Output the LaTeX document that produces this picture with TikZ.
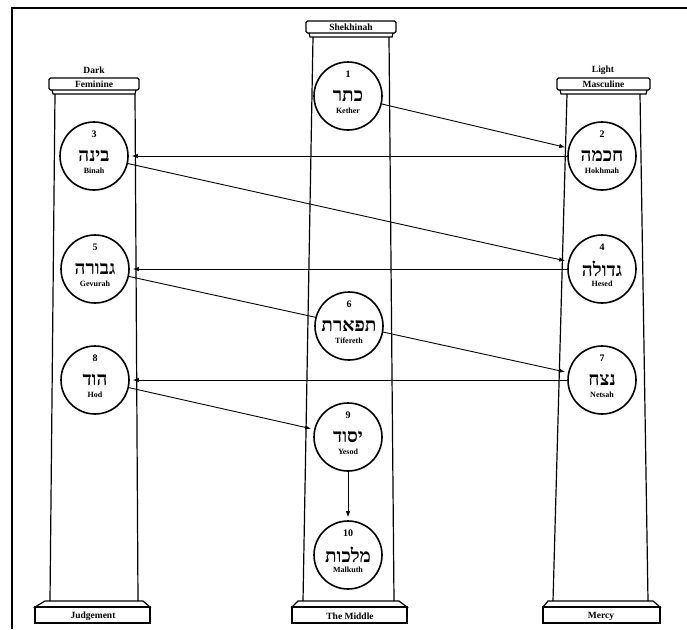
\documentclass[tikz,border=0pt]{standalone}
\usepackage{fontspec}
\usetikzlibrary{arrows.meta}
\TeXXeTstate=1
\newfontfamily\hebfont[Script=Hebrew]{Liberation Serif}
\setmainfont{Liberation Serif}
% #1 cap left, #2 cap right, #3 cap top, #4 shaft top-left, #5 shaft top-right, #6 shaft bottom-left, #7 shaft bottom-right, #8 base left, #9 base right
\newcommand\pillarat[9]{%
  \draw[pil, rounded corners=1.5pt] (#1,#3) rectangle (#2,#3+12);
  \draw[pil] (#1+3,#3+12) -- (#1+4,#3+16) -- (#2-4,#3+16) -- (#2-3,#3+12);
  \draw[pil] (#4,#3+16) -- (#6,601);
  \draw[pil] (#5,#3+16) -- (#7,601);
  \draw[pil] (#6-5,601) -- (#7+5,601) -- (#9,607) -- (#8,607) -- cycle;
  \draw[pil] (#8,607) rectangle (#9,623);
}
% #1 name, #2 x, #3 y, #4 number, #5 hebrew, #6 latin name
\newcommand\sefnode[6]{%
  \node[sef] (#1) at (#2,#3) {\raisebox{-1.5pt}{\beginR #5\endR}};
  \node[numlab] (#1n) at ([yshift=22pt]#1.center) {#4};
  \node[namelab] (#1l) at ([yshift=-15pt]#1.center) {#6};
}
\begin{document}
\begin{tikzpicture}[x=1pt,y=-1pt,
  sef/.style={circle, draw, line width=1.6pt, fill=white, minimum size=68pt, inner sep=0pt,
    font=\hebfont\bfseries\fontsize{19}{19}\selectfont},
  numlab/.style={font=\bfseries\fontsize{10}{10}\selectfont, inner sep=0pt},
  namelab/.style={font=\bfseries\fontsize{8}{8}\selectfont, inner sep=0pt},
  conn/.style={line width=0.9pt, -{Latex[length=6pt,width=4.5pt]}, shorten >=3pt},
  pil/.style={line width=1.2pt},
  lab/.style={font=\bfseries\fontsize{9.5}{10}\selectfont, inner sep=0pt},
  frame/.style={line width=2.2pt}]
\useasboundingbox[fill=white] (0,0) rectangle (687,629);
% frame
\coordinate (fa) at (12,629);
\coordinate (fb) at (12,8);
\coordinate (fc) at (687,8);
\draw[frame] (fa) -- (fb) -- (fc);
% pillars
\pillarat{49}{139}{78}{55}{135}{50}{138}{35}{150}
\pillarat{306}{396}{21}{313}{389}{303}{394}{292}{407}
\pillarat{557}{650}{78}{567}{640}{553}{648}{543}{660}
% pillar labels
\node[lab] (dark) at (94,70) {Dark};
\node[lab] (light) at (603,70) {Light};
\node[lab] (fem) at (94,84.5) {Feminine};
\node[lab] (masc) at (603.5,84.5) {Masculine};
\node[lab] (shek) at (351,27.5) {Shekhinah};
\node[lab] (judg) at (93,616) {Judgement};
\node[lab] (midd) at (350,616) {The Middle};
\node[lab] (merc) at (601,616) {Mercy};
% sefirot
\sefnode{s1}{348}{96}{1}{כתר}{Kether}
\sefnode{s2}{602}{156}{2}{חכמה}{Hokhmah}
\sefnode{s3}{94}{156}{3}{בינה}{Binah}
\sefnode{s4}{602}{269}{4}{גדולה}{Hesed}
\sefnode{s5}{95}{269}{5}{גבורה}{Gevurah}
\sefnode{s7}{602}{380}{7}{נצח}{Netsah}
\sefnode{s8}{95}{380}{8}{הוד}{Hod}
\sefnode{s9}{348}{437}{9}{יסוד}{Yesod}
\sefnode{s10}{348}{555}{10}{מלכות}{Malkuth}
% connectors
\draw[conn] (s1) -- (s2);
\draw[conn] (s2.west) -- (s3.east);
\draw[conn] (s3) -- (s4);
\draw[conn] (s4.west) -- (s5.east);
\draw[conn] (s5) -- (s7);
\draw[conn] (s7.west) -- (s8.east);
\draw[conn] (s8) -- (s9);
\draw[conn] (s9) -- (s10);
\sefnode{s6}{349}{326}{6}{תפארת}{Tifereth}
\end{tikzpicture}
\end{document}
